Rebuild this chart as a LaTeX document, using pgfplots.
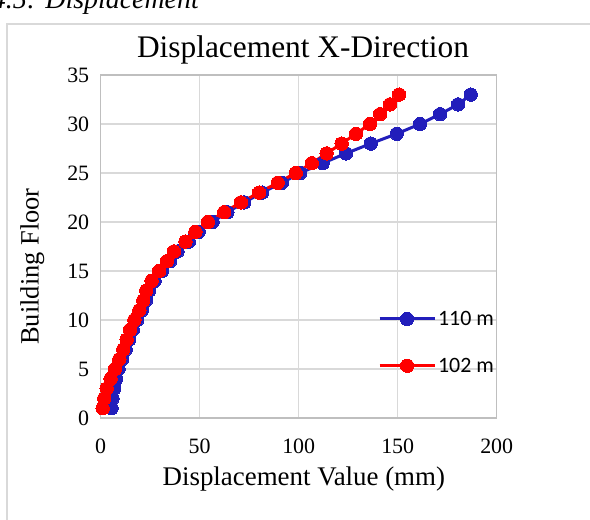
\documentclass[border=0pt]{standalone}
\usepackage{pgfplots}
\pgfplotsset{compat=1.18}
\usepackage{fontspec}
\setmainfont{Liberation Serif}
\newfontfamily\legendfont{Carlito}
\definecolor{blueS}{RGB}{34,30,187}
\definecolor{redS}{RGB}{255,0,0}
\definecolor{gridc}{RGB}{217,217,217}
\definecolor{axisc}{RGB}{191,191,191}

\begin{document}
\begin{tikzpicture}
\useasboundingbox (0bp,0bp) rectangle (590bp,520bp);
\draw[gridc, line width=1.2bp] (7bp,-5bp) -- (7bp,496bp) -- (600bp,496bp);
\node[anchor=base east, inner sep=0pt, font=\fontsize{28}{30}\selectfont\itshape] at (199bp,511bp) {Figure 4.5: Displacement};
\begin{axis}[
  at={(100.7bp,102bp)}, anchor=south west,
  scale only axis, width=396bp, height=343bp,
  xmin=0, xmax=200, ymin=0, ymax=35,
  xtick={0,50,...,200}, ytick={0,5,...,35},
  grid=major, grid style={gridc, line width=1.2bp},
  axis line style={axisc, line width=1.4bp},
  major tick length=0pt,
  /pgf/number format/assume math mode=true,
  tick label style={font=\fontsize{22}{24}\selectfont, text=black},
  xticklabel style={yshift=-17bp},
  yticklabel style={xshift=-8bp},
  clip=false,
  title={Displacement X-Direction},
  title style={at={(axis description cs:0.511,1.034)}, anchor=base, font=\fontsize{31.5}{33}\selectfont, inner sep=0pt},
  xlabel={Displacement Value (mm)},
  xlabel style={at={(axis description cs:0.513,-0.197)}, anchor=base, font=\fontsize{27}{29}\selectfont, inner sep=0pt},
  ylabel={Building Floor},
  ylabel style={at={(axis description cs:-0.173,0.4417)}, anchor=center, rotate=0, font=\fontsize{26.5}{28}\selectfont, inner sep=0pt},
  legend style={at={(axis description cs:0.70,0.318)}, anchor=north west, draw=none, fill=none,
    font=\legendfont\fontsize{22}{24}\selectfont, inner sep=0pt, row sep=27bp,
    nodes={inner sep=2bp}},
  legend cell align=left,
  legend image code/.code={\draw[mark repeat=2,mark phase=2,#1] plot coordinates {(0bp,0bp) (27.5bp,0bp) (55bp,0bp)};},
]
\addplot[blueS, line width=3bp, mark=*, mark size=6.7bp, mark options={fill=blueS, draw=blueS, line width=0pt}] coordinates {
(5.5,1) (6.0,2) (6.8,3) (7.8,4) (9.0,5) (10.8,6) (12.6,7) (14.4,8) (16.2,9) (18.4,10)
(20.8,11) (22.8,12) (24.5,13) (27.2,14) (31.0,15) (35.0,16) (38.8,17) (44.5,18) (49.5,19) (56.5,20)
(64.0,21) (72.5,22) (81.5,23) (91.5,24) (100.8,25) (112.1,26) (123.9,27) (136.4,28) (149.5,29) (161.3,30)
(171.4,31) (180.5,32) (186.9,33)
};
\addlegendentry{110 m}
\addplot[redS, line width=3bp, mark=*, mark size=6.7bp, mark options={fill=redS, draw=redS, line width=0pt}] coordinates {
(1.0,1) (1.8,2) (3.0,3) (5.0,4) (7.2,5) (9.4,6) (11.4,7) (13.1,8) (14.8,9) (17.0,10)
(19.5,11) (21.5,12) (23.0,13) (25.7,14) (29.5,15) (33.4,16) (37.0,17) (42.8,18) (47.8,19) (54.1,20)
(62.4,21) (70.8,22) (80.0,23) (89.4,24) (98.5,25) (106.6,26) (114.1,27) (121.7,28) (128.9,29) (136.0,30)
(141.1,31) (146.1,32) (150.7,33)
};
\addlegendentry{102 m}
\end{axis}
\end{tikzpicture}
\end{document}
